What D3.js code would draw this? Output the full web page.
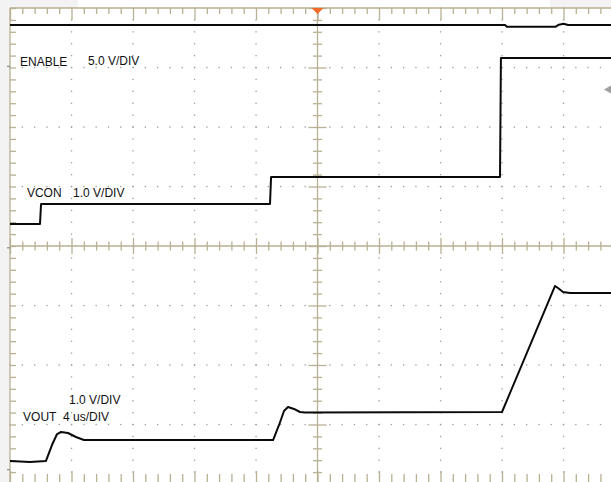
<!DOCTYPE html>
<html>
<head>
<meta charset="utf-8">
<script src="https://cdn.jsdelivr.net/npm/d3@7"></script>
<style>
  html, body { margin: 0; padding: 0; background: #ffffff; }
  svg { display: block; }
  text { font-family: "Liberation Sans", Arial, sans-serif; font-size: 12px; fill: #111; }
</style>
</head>
<body>
<svg id="chart" width="611" height="482"></svg>
<script>
// ---- data (time in µs, level in screen divisions from bottom, 0..8) ----
const enableTime  = [0, 32.2, 32.3, 35.5, 35.7, 36.0, 36.3, 40];
const enableLevel = [7.714, 7.714, 7.686, 7.686, 7.72, 7.735, 7.714, 7.714];

const vconTime  = [0, 1.95, 2.02, 16.91, 16.98, 31.87, 31.93, 40];
const vconLevel = [4.37, 4.37, 4.706, 4.706, 5.16, 5.16, 7.16, 7.16];

const voutTime  = [0, 1.30, 2.34, 2.73, 3.06, 3.32, 3.77, 4.29, 4.81, 17.11, 17.50, 17.82, 18.08, 18.47, 18.86, 19.19, 32.0, 35.45, 35.64, 35.97, 36.42, 40];
const voutLevel = [0.387, 0.370, 0.387, 0.655, 0.840, 0.874, 0.857, 0.790, 0.739, 0.739, 0.992, 1.227, 1.294, 1.261, 1.210, 1.202, 1.210, 3.328, 3.294, 3.227, 3.210, 3.210];

const labels = [
  { text: "ENABLE",    t: 0.65, d: 7.02 },
  { text: "5.0 V/DIV", t: 5.07, d: 7.04 },
  { text: "VCON",      t: 1.10, d: 4.82 },
  { text: "1.0 V/DIV", t: 4.10, d: 4.82 },
  { text: "1.0 V/DIV", t: 3.84, d: 1.34 },
  { text: "VOUT",      t: 0.85, d: 1.06 },
  { text: "4 us/DIV",  t: 3.45, d: 1.06 }
];

const majorTimes  = d3.range(0, 41, 4);
const minorTimes  = d3.range(0, 40.01, 0.8);
const majorLevels = d3.range(0, 9, 1);
const minorLevels = d3.range(0, 8.001, 0.2);

// ---- scales ----
const svg = d3.select("#chart");
const x = d3.scaleLinear().domain([0, 40]).range([10, 625]);
const y = d3.scaleLinear().domain([0, 8]).range([484, 8]);
const gridColor = "#b8b193";
const dotColor = "#9c9c9c";

// background strips
svg.append("rect").attr("x", 0).attr("y", 0).attr("width", 611).attr("height", 482).attr("fill", "#ffffff");
svg.append("rect").attr("x", 0).attr("y", 0).attr("width", x(0)).attr("height", 482).attr("fill", "#f3f3f3");
svg.append("rect").attr("x", 0).attr("y", 0).attr("width", 78).attr("height", y(8)).attr("fill", "#f3f3f3");
svg.append("rect").attr("x", 550).attr("y", 0).attr("width", 61).attr("height", y(8)).attr("fill", "#f3f3f3");

// dotted major grid
const dots = svg.append("g").attr("fill", dotColor);
majorTimes.filter(t => t > 0 && t < 40 && t !== 20).forEach(t => {
  minorLevels.forEach(d => {
    dots.append("rect").attr("x", x(t) - 0.6).attr("y", y(d) - 0.6).attr("width", 1.3).attr("height", 1.3);
  });
});
majorLevels.filter(d => d > 0 && d < 8 && d !== 4).forEach(d => {
  minorTimes.forEach(t => {
    dots.append("rect").attr("x", x(t) - 0.6).attr("y", y(d) - 0.6).attr("width", 1.3).attr("height", 1.3);
  });
});

// axes helpers
function styleAxis(g) {
  g.select(".domain").remove();
  g.selectAll("line").attr("stroke", gridColor).attr("stroke-width", 1.3);
  g.selectAll("text").remove();
}
const isMajorT = t => Math.abs(t / 4 - Math.round(t / 4)) < 1e-6;
const isMajorD = d => Math.abs(d - Math.round(d)) < 1e-6;

// top border
svg.append("line").attr("x1", x(0)).attr("x2", x(40)).attr("y1", y(8)).attr("y2", y(8)).attr("stroke", gridColor).attr("stroke-width", 1.3);
svg.append("g").attr("transform", `translate(0,${y(8)})`)
  .call(d3.axisBottom(x).tickValues(minorTimes.filter(t => !isMajorT(t))).tickSize(6)).call(styleAxis);
svg.append("g").attr("transform", `translate(0,${y(8)})`)
  .call(d3.axisBottom(x).tickValues(majorTimes).tickSize(12)).call(styleAxis);

// bottom border
svg.append("line").attr("x1", x(0)).attr("x2", x(40)).attr("y1", y(0)).attr("y2", y(0)).attr("stroke", gridColor).attr("stroke-width", 1.3);
svg.append("g").attr("transform", `translate(0,${y(0)})`)
  .call(d3.axisTop(x).tickValues(minorTimes.filter(t => !isMajorT(t))).tickSize(10)).call(styleAxis);
svg.append("g").attr("transform", `translate(0,${y(0)})`)
  .call(d3.axisTop(x).tickValues(majorTimes).tickSize(13)).call(styleAxis);

// left border
svg.append("line").attr("x1", x(0)).attr("x2", x(0)).attr("y1", y(8)).attr("y2", y(0)).attr("stroke", gridColor).attr("stroke-width", 1.3);
svg.append("g").attr("transform", `translate(${x(0)},0)`)
  .call(d3.axisRight(y).tickValues(minorLevels).tickSize(6)).call(styleAxis);

// center horizontal axis
svg.append("line").attr("x1", x(0)).attr("x2", x(40)).attr("y1", y(4)).attr("y2", y(4)).attr("stroke", gridColor).attr("stroke-width", 1.3);
svg.append("g").attr("transform", `translate(0,${y(4)})`)
  .call(d3.axisBottom(x).tickValues(minorTimes.filter(t => !isMajorT(t))).tickSize(4.5)).call(styleAxis);
svg.append("g").attr("transform", `translate(0,${y(4)})`)
  .call(d3.axisTop(x).tickValues(minorTimes.filter(t => !isMajorT(t))).tickSize(4.5)).call(styleAxis);
svg.append("g").attr("transform", `translate(0,${y(4)})`)
  .call(d3.axisBottom(x).tickValues(majorTimes).tickSize(8)).call(styleAxis);
svg.append("g").attr("transform", `translate(0,${y(4)})`)
  .call(d3.axisTop(x).tickValues(majorTimes).tickSize(8)).call(styleAxis);

// center vertical axis
svg.append("line").attr("x1", x(20)).attr("x2", x(20)).attr("y1", y(8)).attr("y2", y(0)).attr("stroke", gridColor).attr("stroke-width", 1.3);
svg.append("g").attr("transform", `translate(${x(20)},0)`)
  .call(d3.axisRight(y).tickValues(minorLevels.filter(d => !isMajorD(d))).tickSize(4.5)).call(styleAxis);
svg.append("g").attr("transform", `translate(${x(20)},0)`)
  .call(d3.axisLeft(y).tickValues(minorLevels.filter(d => !isMajorD(d))).tickSize(4.5)).call(styleAxis);
svg.append("g").attr("transform", `translate(${x(20)},0)`)
  .call(d3.axisRight(y).tickValues(majorLevels).tickSize(9)).call(styleAxis);
svg.append("g").attr("transform", `translate(${x(20)},0)`)
  .call(d3.axisLeft(y).tickValues(majorLevels).tickSize(9)).call(styleAxis);

// channel ground markers on left edge
[7.02, 3.97, 0.24].forEach(d => {
  svg.append("line").attr("x1", x(0) - 3).attr("x2", x(0)).attr("y1", y(d)).attr("y2", y(d))
    .attr("stroke", "#8a8a8a").attr("stroke-width", 1.2);
});

// trigger marker (top, orange)
svg.append("path")
  .attr("d", `M${x(20) - 6},${y(8)} L${x(20) + 6},${y(8)} L${x(20)},${y(8) + 6} Z`)
  .attr("fill", "#f26a2a");

// trigger level marker (right, gray)
svg.append("path")
  .attr("d", `M${604},${y(6.63)} L${611},${y(6.63) - 4} L${611},${y(6.63) + 4} Z`)
  .attr("fill", "#a0a0a0");

// traces
const line = d3.line().x(p => x(p[0])).y(p => y(p[1]));
function trace(ts, ls) {
  svg.append("path")
    .datum(ts.map((t, i) => [t, ls[i]]))
    .attr("d", line)
    .attr("fill", "none")
    .attr("stroke", "#0a0a0a")
    .attr("stroke-width", 2)
    .attr("stroke-linejoin", "round");
}
trace(enableTime, enableLevel);
trace(vconTime, vconLevel);
trace(voutTime, voutLevel);

// labels
svg.append("g").selectAll("text").data(labels).join("text")
  .attr("x", l => x(l.t)).attr("y", l => y(l.d)).text(l => l.text);
</script>
</body>
</html>
